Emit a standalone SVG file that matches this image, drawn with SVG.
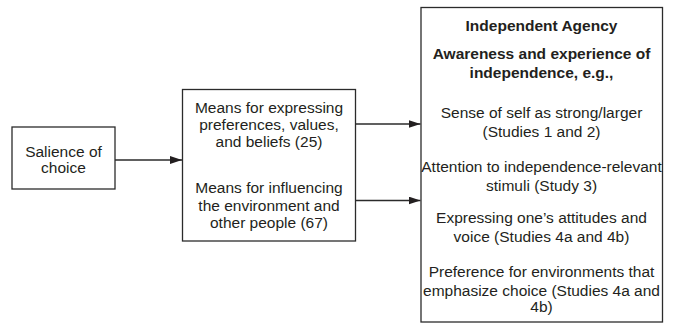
<svg xmlns="http://www.w3.org/2000/svg" width="677" height="325" viewBox="0 0 677 325">
<style>
.box{fill:#fff;stroke:#2b2b2b;stroke-width:1.3}
.t{font-family:"Liberation Sans",Arial,sans-serif;font-size:15.5px;fill:#231f20;text-anchor:middle}
.b{font-weight:bold}
.c{stroke:#2b2b2b;stroke-width:1.3;fill:none}
</style>
<defs>
<marker id="ah" viewBox="0 0 12 8" refX="12" refY="4" markerWidth="12" markerHeight="8" markerUnits="userSpaceOnUse" orient="auto">
<path d="M0,0 L12,4 L0,8 z" fill="#231f20"/>
</marker>
</defs>
<rect width="677" height="325" fill="#fff"/>
<g id="salience">
<rect class="box" x="12" y="127" width="103" height="62"/>
<text class="t" x="63.5" y="156.5">Salience of</text>
<text class="t" x="63.5" y="173">choice</text>
</g>
<g id="means">
<rect class="box" x="182.5" y="89.5" width="173" height="151.5"/>
<text class="t" x="269" y="113">Means for expressing</text>
<text class="t" x="269" y="130">preferences, values,</text>
<text class="t" x="269" y="147">and beliefs (25)</text>
<text class="t" x="269" y="193">Means for influencing</text>
<text class="t" x="269" y="210.5">the environment and</text>
<text class="t" x="269" y="228">other people (67)</text>
</g>
<g id="agency">
<rect class="box" x="421" y="7.5" width="241.5" height="314.5"/>
<text class="t b" x="541.5" y="30.5">Independent Agency</text>
<text class="t b" x="541.5" y="58.5">Awareness and experience of</text>
<text class="t b" x="541.5" y="78">independence, e.g.,</text>
<text class="t" x="541.5" y="118">Sense of self as strong/larger</text>
<text class="t" x="541.5" y="137">(Studies 1 and 2)</text>
<text class="t" x="541.5" y="172">Attention to independence-relevant</text>
<text class="t" x="541.5" y="191">stimuli (Study 3)</text>
<text class="t" x="541.5" y="223">Expressing one’s attitudes and</text>
<text class="t" x="541.5" y="242">voice (Studies 4a and 4b)</text>
<text class="t" x="541.5" y="277">Preference for environments that</text>
<text class="t" x="541.5" y="295.5">emphasize choice (Studies 4a and</text>
<text class="t" x="541.5" y="312">4b)</text>
</g>
<g id="connectors">
<line class="c" x1="115" y1="160" x2="182" y2="160" marker-end="url(#ah)"/>
<line class="c" x1="355.5" y1="124" x2="420.5" y2="124" marker-end="url(#ah)"/>
<line class="c" x1="355.5" y1="200.5" x2="420.5" y2="200.5" marker-end="url(#ah)"/>
</g>
</svg>
